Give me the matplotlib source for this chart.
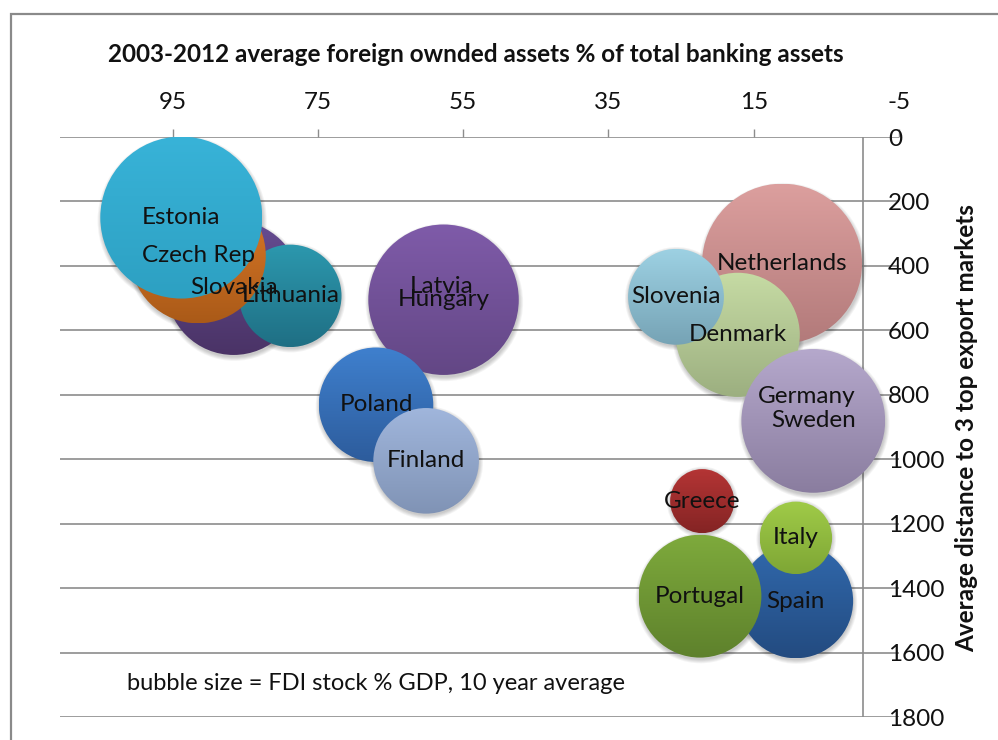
import numpy as np
import matplotlib
matplotlib.use("Agg")
import matplotlib.pyplot as plt
from matplotlib.patches import Circle, Rectangle
from matplotlib.transforms import Affine2D, ScaledTranslation

# --- data -------------------------------------------------------------
# drawing order follows series order (later series sit on top)
countries = ["Netherlands", "Denmark", "Germany", "Sweden", "Slovenia",
             "Spain", "Italy", "Portugal", "Greece",
             "Latvia", "Hungary", "Poland", "Finland",
             "Slovakia", "Lithuania", "Czech Rep", "Estonia"]
# 2003-2012 average foreign owned assets, % of total banking assets
foreign_assets = [11.1, 17.2, 7.7, 6.8, 25.7,
                  9.2, 9.2, 22.4, 22.1,
                  58.0, 57.7, 67.0, 60.1,
                  86.6, 78.8, 91.5, 93.8]
# average distance to 3 top export markets
distance = [393, 614, 806, 881, 496,
            1440, 1244, 1425, 1130,
            464, 505, 831, 1005,
            468, 493, 368, 250]
# FDI stock % GDP, 10 year average (bubble size)
fdi_stock = [78, 47, 22, 63, 28,
             40, 16, 46, 12.5,
             37, 69, 40, 34,
             55, 32, 56, 80]

x_ticks = [95, 75, 55, 35, 15, -5]
y_ticks = [0, 200, 400, 600, 800, 1000, 1200, 1400, 1600, 1800]

# top / bottom colours of each bubble's vertical gradient
bubble_colors = {
    "Netherlands": ("#dc9f9e", "#b27a7a"),
    "Denmark": ("#c6dba4", "#9caf80"),
    "Germany": ("#a993c9", "#7f6aa0"),
    "Sweden": ("#b5a8cc", "#8a7d9f"),
    "Slovenia": ("#9dd1e3", "#76a3b5"),
    "Spain": ("#3169ad", "#234b80"),
    "Italy": ("#a0cb48", "#7ea635"),
    "Portugal": ("#7eaa3c", "#5e812c"),
    "Greece": ("#b53535", "#842424"),
    "Latvia": ("#8064aa", "#5f4985"),
    "Hungary": ("#7f5ba9", "#634785"),
    "Poland": ("#3f80ce", "#2d5c9c"),
    "Finland": ("#a0b6dc", "#8093b5"),
    "Slovakia": ("#664c92", "#4a3366"),
    "Lithuania": ("#2c98ae", "#1f6f84"),
    "Czech Rep": ("#e27d2a", "#aa5a18"),
    "Estonia": ("#38b3d8", "#2da0c2"),
}

FONT = ["Lato", "DejaVu Sans"]
plt.rcParams["font.family"] = FONT

DPI = 100
fig = plt.figure(figsize=(9.98, 7.40), dpi=DPI)
fig.patch.set_facecolor("white")

# plot area
ax = fig.add_axes([60 / 998, 1 - 717 / 740, (899 - 60) / 998, (717 - 137) / 740])
ax.set_facecolor("white")
XLIM = (110.5, -5)
YLIM = (1800, 0)
ax.set_xlim(*XLIM)
ax.set_ylim(*YLIM)
ax.set_autoscale_on(False)

for s in ax.spines.values():
    s.set_visible(False)

GRID = "#8c8c8c"
# horizontal gridlines
for yv in y_ticks:
    ax.axhline(yv, color=GRID, lw=1.2, zorder=1)
# vertical value axis crossing at x = 0
ax.axvline(0, color=GRID, lw=1.2, zorder=1)

# x axis on top
ax.xaxis.tick_top()
ax.set_xticks(x_ticks)
ax.set_xticklabels([str(v) for v in x_ticks])
ax.tick_params(axis="x", direction="out", length=6, width=1, color=GRID,
               pad=11, labelsize=17.5, labelcolor="#111111")
# y axis labels on the right
ax.yaxis.tick_right()
ax.set_yticks(y_ticks)
ax.set_yticklabels([str(v) for v in y_ticks])
ax.tick_params(axis="y", length=0, pad=-8, labelsize=17.5, labelcolor="#111111")

# --- bubbles ------------------------------------------------------------
R_MAX_PX = 81.0
vmax = max(fdi_stock)
grad = np.linspace(0, 1, 256).reshape(-1, 1)

for name, xv, yv, sv in zip(countries, foreign_assets, distance, fdi_stock):
    r = R_MAX_PX * np.sqrt(sv / vmax)
    center = ScaledTranslation(xv, yv, ax.transData)
    unit = Affine2D().scale(r) + center

    # soft drop shadow
    for k in range(5):
        sh = Circle((0.01, -0.035), 1 + (4 - k) * 0.9 / r, transform=unit,
                    facecolor="#000000", alpha=0.045, lw=0, zorder=2)
        ax.add_patch(sh)

    top, bottom = bubble_colors[name]
    cmap = matplotlib.colors.LinearSegmentedColormap.from_list(name, [top, bottom])
    im = ax.imshow(grad, cmap=cmap, extent=(-1, 1, -1, 1), origin="upper",
                   transform=unit, interpolation="bilinear", zorder=3,
                   aspect="auto")
    clip = Circle((0, 0), 1, transform=unit, facecolor="none", lw=0)
    ax.add_patch(clip)
    im.set_clip_path(clip)

ax.set_xlim(*XLIM)
ax.set_ylim(*YLIM)

# data labels drawn above all bubbles
for name, xv, yv in zip(countries, foreign_assets, distance):
    ax.text(xv, yv, name, ha="center", va="center", fontsize=17.5,
            color="#111111", zorder=10)

# --- titles and notes ---------------------------------------------------
fig.text(476 / 998, 1 - 55 / 740,
         "2003-2012 average foreign ownded assets % of total banking assets",
         ha="center", va="center", fontsize=17.5, fontweight="bold",
         color="#111111")
fig.text(967 / 998, 1 - 428 / 740, "Average distance to 3 top export markets",
         ha="center", va="center", rotation=90, fontsize=17.5,
         fontweight="bold", color="#111111")
fig.text(127 / 998, 1 - 684 / 740,
         "bubble size = FDI stock % GDP, 10 year average",
         ha="left", va="center", fontsize=17, color="#111111")

# chart frame
fig.patches.append(Rectangle((11 / 998, -0.5), 2, 0.5 + (1 - 14 / 740),
                             transform=fig.transFigure, fill=False,
                             edgecolor="#8a8a8a", lw=1.6))

fig.savefig("out.png", dpi=DPI)
